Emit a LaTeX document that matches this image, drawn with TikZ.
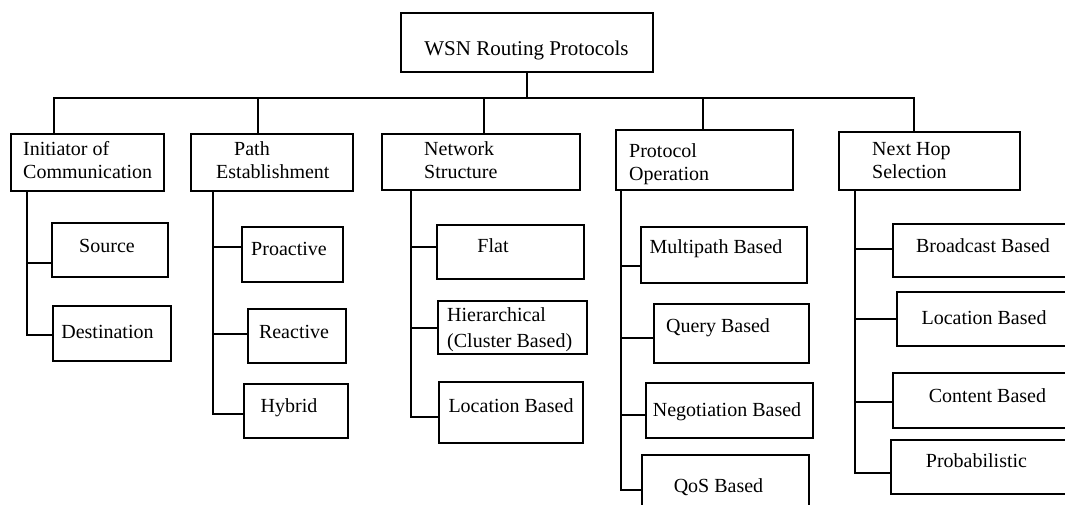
\documentclass[tikz,border=0pt]{standalone}
\usepackage{fontspec}
\setmainfont{Liberation Serif}
\usetikzlibrary{calc}

% box from (x1,y1) to (x2,y2), y measured downwards
\newcommand\bx[5]{\node[box, minimum width={#4-#2}, minimum height={#5-#3}] (#1) at ({(#2+#4)/2},{(#3+#5)/2}) {};}
% horizontal twig from a child box back to its trunk
\newcommand\twig[3]{\draw[wire] ([yshift=#3]#2.west) -- ([yshift=#3]#2.west -| #1);}
\newcommand\twolines[2]{\begin{tabular}[t]{@{}l@{}}#1\\#2\end{tabular}}

\begin{document}
\begin{tikzpicture}[x=1pt,y=-1pt,
  box/.style={draw, line width=2pt, inner sep=0pt, outer sep=0pt, fill=white},
  wire/.style={line width=2pt},
  lbl/.style={inner sep=0pt, anchor=base, font=\fontsize{20}{23}\selectfont},
  lblw/.style={inner sep=0pt, anchor=base west, font=\fontsize{20}{23}\selectfont},
  toplbl/.style={inner sep=0pt, anchor=base, font=\fontsize{21}{24}\selectfont}]

\useasboundingbox (0,0) rectangle (1065,504);
\fill[white] (0,0) rectangle (1065,504);
\clip (0,0) rectangle (1065,504);

% ---- root ----
\bx{root}{400.5}{13}{653}{72}
\node[toplbl] (rootT) at (526.5,55) {WSN Routing Protocols};

% ---- first level ----
\bx{init}{11}{134}{164}{191}
\bx{path}{191}{134}{353}{191}
\bx{net}{382}{134}{580}{190}
\bx{prot}{616}{130}{793}{190}
\bx{hop}{839}{132}{1020}{190}

\node[lblw] (initT) at (23,155) {\twolines{Initiator of}{Communication}};
\node[lblw] (pathT) at (216,155) {\twolines{\hspace*{18pt}Path}{Establishment}};
\node[lblw] (netT)  at (424,155) {\twolines{Network}{Structure}};
\node[lblw] (protT) at (629,157) {\twolines{Protocol}{Operation}};
\node[lblw] (hopT)  at (872,155) {\twolines{Next Hop}{Selection}};

% ---- bus ----
\coordinate (busL) at (54,98);
\coordinate (busR) at (914,98);
\draw[wire] (root.south) -- (root.south |- busL);
\draw[wire] (init.north -| busL) -- (busL) -- (busR) -- (hop.north -| busR);
\draw[wire] ([xshift=-14pt]path.north) -- ([xshift=-14pt]path.north |- busL);
\draw[wire] ([xshift=3pt]net.north) -- ([xshift=3pt]net.north |- busL);
\draw[wire] ([xshift=-1.5pt]prot.north) -- ([xshift=-1.5pt]prot.north |- busL);

% ---- Initiator of Communication ----
\coordinate (tI) at (27,0);
\bx{src}{52}{223}{168}{277}
\bx{dst}{53}{306}{171}{361}
\draw[wire] (init.south -| tI) |- ([yshift=-1.5pt]dst.west);
\twig{tI}{src}{-13pt}
\node[lbl] (srcT) at (107,252) {Source};
\node[lbl] (dstT) at (107.5,338) {Destination};

% ---- Path Establishment ----
\coordinate (tP) at (213,0);
\bx{pro}{242}{227}{343}{282}
\bx{rea}{248}{309}{346}{363}
\bx{hyb}{244}{384}{348}{438}
\draw[wire] (path.south -| tP) |- ([yshift=-3pt]hyb.west);
\twig{tP}{pro}{7.5pt}
\twig{tP}{rea}{2pt}
\node[lbl] (proT) at (289,255) {Proactive};
\node[lbl] (reaT) at (294,338) {Reactive};
\node[lbl] (hybT) at (289,412) {Hybrid};

% ---- Network Structure ----
\coordinate (tN) at (411,0);
\bx{flat}{437}{225}{584}{279}
\bx{hier}{438}{301}{587}{354}
\bx{locn}{439}{382}{583}{443}
\draw[wire] (net.south -| tN) |- ([yshift=-4.5pt]locn.west);
\twig{tN}{flat}{5pt}
\twig{tN}{hier}{0pt}
\node[lbl] (flatT) at (493,252) {Flat};
\node[lblw] (hierT) at (447,321) {\begin{tabular}[t]{@{}l@{}}Hierarchical\\[3pt](Cluster Based)\end{tabular}};
\node[lbl] (locnT) at (511,412) {Location Based};

% ---- Protocol Operation ----
\coordinate (tO) at (621,0);
\bx{multi}{641}{227}{807}{283}
\bx{query}{654}{304}{809}{363}
\bx{nego}{646}{383}{813}{438}
\bx{qos}{642}{455}{809}{525}
\draw[wire] (prot.south -| tO) |- (qos.west);
\twig{tO}{multi}{-11pt}
\twig{tO}{query}{-4.5pt}
\twig{tO}{nego}{-4.5pt}
\node[lbl] (multiT) at (716,253) {Multipath Based};
\node[lbl] (queryT) at (718,332) {Query Based};
\node[lbl] (negoT)  at (727,416) {Negotiation Based};
\node[lbl] (qosT)   at (718.5,492) {QoS Based};

% ---- Next Hop Selection ----
\coordinate (tH) at (855,0);
\bx{bcast}{893}{224}{1090}{277}
\bx{loch}{897}{292}{1090}{346}
\bx{cont}{893}{373}{1090}{428}
\bx{prob}{891}{440}{1090}{494}
\draw[wire] (hop.south -| tH) |- ([yshift=-6pt]prob.west);
\twig{tH}{bcast}{1.5pt}
\twig{tH}{loch}{0pt}
\twig{tH}{cont}{-1.5pt}
\node[lbl] (bcastT) at (983,252) {Broadcast Based};
\node[lbl] (lochT)  at (984,324) {Location Based};
\node[lbl] (contT)  at (987.5,402) {Content Based};
\node[lbl] (probT)  at (976.5,467) {Probabilistic};

\end{tikzpicture}
\end{document}
